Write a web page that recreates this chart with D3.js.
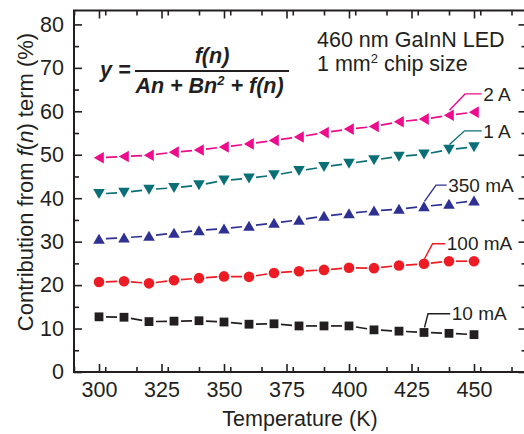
<!DOCTYPE html>
<html>
<head>
<meta charset="utf-8">
<title>Contribution from f(n) term</title>
<script src="https://cdn.jsdelivr.net/npm/d3@7"></script>
<style>
  body { margin: 0; background: #fff; }
  text { font-family: "Liberation Sans", Arial, Helvetica, sans-serif; fill: #231f20; }
</style>
</head>
<body>
<div id="chart"></div>
<script>
// ====================== data
var temps = [300, 310, 320, 330, 340, 350, 360, 370, 380, 390, 400, 410, 420, 430, 440, 450];
var s10mA  = [12.7, 12.6, 11.6, 11.7, 11.8, 11.5, 11.0, 11.1, 10.6, 10.6, 10.6, 9.7, 9.4, 9.1, 8.9, 8.6];
var s100mA = [20.7, 20.9, 20.4, 21.1, 21.6, 22.0, 21.9, 22.8, 23.2, 23.5, 24.0, 23.9, 24.5, 24.9, 25.5, 25.5];
var s350mA = [30.6, 30.9, 31.3, 32.0, 32.6, 33.0, 33.6, 34.3, 35.0, 35.9, 36.5, 37.1, 37.5, 38.1, 38.7, 39.4];
var s1A    = [41.0, 41.3, 42.0, 42.4, 43.0, 44.1, 44.6, 45.3, 46.3, 47.2, 48.0, 48.8, 49.6, 50.1, 51.2, 51.8];
var s2A    = [49.3, 49.6, 49.9, 50.6, 51.1, 51.8, 52.5, 53.3, 54.1, 55.1, 55.9, 56.5, 57.6, 58.2, 59.1, 59.8];
var seriesNames = ['10 mA', '100 mA', '350 mA', '1 A', '2 A'];
var labelAnchor = [430, 430, 430, 440, 440];      // temperature of the point the leader starts at
var labelValue  = [13.4, 29.5, 43.0, 55.5, 64.0];  // y value of the label text
var xTicks = [300, 325, 350, 375, 400, 425, 450];
var yTicks = [0, 10, 20, 30, 40, 50, 60, 70, 80];

var width = 524, height = 434;
var margin = {left: 74, right: 526.5, top: 10.5, bottom: 372};
var ink = '#231f20';

var x = d3.scaleLinear().domain([290, 471]).range([margin.left, margin.right]);
var y = d3.scaleLinear().domain([0, 83.2]).range([margin.bottom, margin.top]);

var style = [
    {color: '#231f20', marker: 'M-4.4,-4.4h8.8v8.8h-8.8Z', lead: 4, end: 450.3},
    {color: '#ed1c24', marker: 'circle', lead: 8.5, end: 445.3},
    {color: '#2e3192', marker: 'M0,-5.2L5.8,4.8L-5.8,4.8Z', lead: 12, end: 446.7},
    {color: '#0a7077', marker: 'M0,5.2L5.8,-4.8L-5.8,-4.8Z', lead: 15.5, end: 481.7},
    {color: '#ec0c8c', marker: 'M-5.2,0L4.8,-5.8L4.8,5.8Z', lead: 16, end: 481.7}
];
var allSeries = [s10mA, s100mA, s350mA, s1A, s2A];

var svg = d3.select('#chart').append('svg')
        .attr('width', width)
        .attr('height', height);

// ====================== axes (ticks inward)
function tickAxis(axis, minor, size) {
    return axis.tickValues(minor).tickSize(size).tickSizeOuter(0).tickFormat('');
}
var xMinor = d3.range(290, 471, 12.5).filter(function (v) { return xTicks.indexOf(v) < 0; });
var yMinor = d3.range(5, 83, 10);

svg.append('g').attr('transform', 'translate(0,' + margin.bottom + ')')
        .call(d3.axisBottom(x).tickValues(xTicks).tickSize(-8).tickSizeOuter(0).tickPadding(10));
svg.append('g').attr('transform', 'translate(0,' + margin.bottom + ')')
        .call(tickAxis(d3.axisBottom(x), xMinor, -5));
svg.append('g').attr('transform', 'translate(0,' + margin.top + ')')
        .call(tickAxis(d3.axisTop(x), xTicks, -8));
svg.append('g').attr('transform', 'translate(0,' + margin.top + ')')
        .call(tickAxis(d3.axisTop(x), xMinor, -5));

svg.append('g').attr('transform', 'translate(' + margin.left + ',0)')
        .call(d3.axisLeft(y).tickValues(yTicks).tickSize(-8).tickSizeOuter(0).tickPadding(10));
svg.append('g').attr('transform', 'translate(' + margin.left + ',0)')
        .call(tickAxis(d3.axisLeft(y), yMinor, -5));
svg.append('g').attr('transform', 'translate(' + margin.right + ',0)')
        .call(tickAxis(d3.axisRight(y), yTicks, -8));
svg.append('g').attr('transform', 'translate(' + margin.right + ',0)')
        .call(tickAxis(d3.axisRight(y), yMinor, -5));

svg.selectAll('.domain').remove();
svg.selectAll('.tick line').attr('stroke', ink).attr('stroke-width', 1.6);
svg.selectAll('.tick text').attr('font-size', 21.5).attr('fill', ink)
        .style('font-family', '"Liberation Sans", Arial, sans-serif');

svg.append('rect')
        .attr('x', margin.left).attr('y', margin.top)
        .attr('width', margin.right - margin.left)
        .attr('height', margin.bottom - margin.top)
        .attr('fill', 'none').attr('stroke', ink).attr('stroke-width', 2);

// ====================== series
var gap = 7;
allSeries.forEach(function (vals, si) {
    var st = style[si];
    var pts = temps.map(function (t, i) { return [x(t), y(vals[i])]; });
    var g = svg.append('g');
    var segs = d3.pairs(pts);
    g.selectAll('line').data(segs).enter().append('line')
            .each(function (d) {
                var dx = d[1][0] - d[0][0], dy = d[1][1] - d[0][1];
                var len = Math.sqrt(dx * dx + dy * dy);
                var ux = dx / len, uy = dy / len;
                d3.select(this)
                        .attr('x1', d[0][0] + ux * gap).attr('y1', d[0][1] + uy * gap)
                        .attr('x2', d[1][0] - ux * gap).attr('y2', d[1][1] - uy * gap);
            })
            .attr('stroke', st.color).attr('stroke-width', 1.7);
    if (st.marker == 'circle') {
        g.selectAll('circle').data(pts).enter().append('circle')
                .attr('cx', function (d) { return d[0]; })
                .attr('cy', function (d) { return d[1]; })
                .attr('r', 5.3).attr('fill', st.color);
    } else {
        g.selectAll('path').data(pts).enter().append('path')
                .attr('d', st.marker)
                .attr('transform', function (d) { return 'translate(' + d[0] + ',' + d[1] + ')'; })
                .attr('fill', st.color);
    }

    // leader + label
    var ai = temps.indexOf(labelAnchor[si]);
    var ax = x(temps[ai]), ay = y(vals[ai]);
    var ly = y(labelValue[si]);
    g.append('polyline')
            .attr('points', [[ax + 0.5, ay - 5], [ax + st.lead, ly], [st.end, ly]].join(' '))
            .attr('fill', 'none').attr('stroke', st.color).attr('stroke-width', 1.4);
    g.append('text')
            .attr('x', st.end + 1.5).attr('y', ly).attr('dy', '0.35em')
            .attr('font-size', 19)
            .text(seriesNames[si]);
});

// ====================== annotations
var note = svg.append('text').attr('font-size', 21.5);
note.append('tspan').attr('x', 317).attr('y', 47).text('460 nm GaInN LED');
var l2 = note.append('tspan').attr('x', 317).attr('y', 71);
l2.append('tspan').text('1 mm');
l2.append('tspan').attr('font-size', 13).attr('dy', -8).text('2');
l2.append('tspan').attr('dy', 8).text(' chip size');

var eq = svg.append('g').attr('font-size', 21.5).attr('font-weight', 'bold').attr('font-style', 'italic');
eq.append('text').attr('x', 100).attr('y', 77).text('y =');
eq.append('line').attr('x1', 135).attr('x2', 289).attr('y1', 71).attr('y2', 71)
        .attr('stroke', ink).attr('stroke-width', 1.8);
eq.append('text').attr('x', 212).attr('y', 63).attr('text-anchor', 'middle').text('f(n)');
var den = eq.append('text').attr('x', 209.5).attr('y', 93).attr('text-anchor', 'middle');
den.append('tspan').text('An + Bn');
den.append('tspan').attr('font-size', 13).attr('dy', -8).text('2');
den.append('tspan').attr('dy', 8).text(' + f(n)');

// ====================== axis titles
svg.append('text').attr('x', 300).attr('y', 426).attr('text-anchor', 'middle')
        .attr('font-size', 21.5).text('Temperature (K)');
var yt = svg.append('text').attr('text-anchor', 'middle').attr('font-size', 22)
        .attr('transform', 'translate(33,182) rotate(-90)');
yt.append('tspan').text('Contribution from ');
yt.append('tspan').attr('font-style', 'italic').text('f');
yt.append('tspan').text('(');
yt.append('tspan').attr('font-style', 'italic').text('n');
yt.append('tspan').text(') term (%)');
</script>
</body>
</html>
